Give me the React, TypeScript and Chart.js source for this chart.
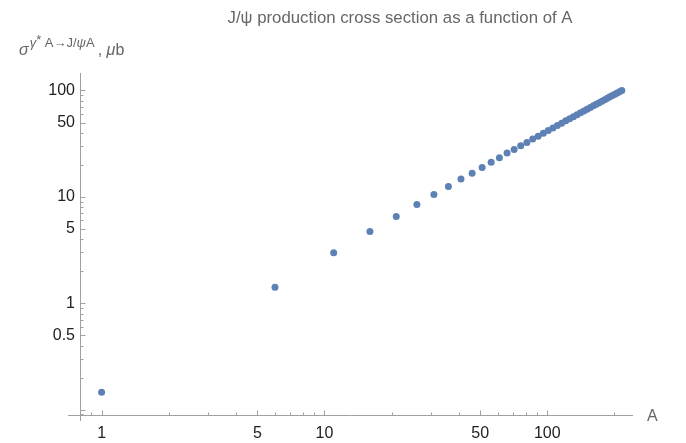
import React, { useEffect, useRef } from 'react';
import { Chart, registerables } from 'chart.js';

Chart.register(...registerables);

// Mass number A and cross section sigma(gamma* A -> J/psi A) in microbarn
const massNumbers = [
  1, 6, 11, 16, 21, 26, 31, 36, 41, 46, 51, 56, 61, 66, 71, 76, 81, 86, 91, 96,
  101, 106, 111, 116, 121, 126, 131, 136, 141, 146, 151, 156, 161, 166, 171, 176,
  181, 186, 191, 196, 201, 206, 211, 216,
];
const crossSections = [
  0.146, 1.41, 2.99, 4.72, 6.53, 8.46, 10.5, 12.5, 14.7, 16.7, 18.9, 21.2, 23.3,
  25.8, 27.9, 30.2, 32.4, 34.9, 37.2, 39.7, 42.1, 44.5, 46.9, 49.3, 51.8, 54.2,
  56.6, 59.1, 61.6, 64.1, 66.6, 69.1, 71.7, 74.2, 76.8, 79.3, 81.9, 84.5, 87.1,
  89.7, 92.3, 94.9, 97.5, 100.2,
];

const xTickValues = [0.8, 0.9, 1, 2, 3, 4, 5, 6, 7, 8, 9, 10, 20, 30, 40, 50, 60, 70, 80, 90, 100, 200];
const xLabelledTicks = [1, 5, 10, 50, 100];
const yTickValues = [
  0.09, 0.1, 0.2, 0.3, 0.4, 0.5, 0.6, 0.7, 0.8, 0.9, 1, 2, 3, 4, 5, 6, 7, 8, 9, 10,
  20, 30, 40, 50, 60, 70, 80, 90, 100,
];
const yLabelledTicks = [0.5, 1, 5, 10, 50, 100];
const yLongTicks = [0.1, 0.5, 1, 5, 10, 50, 100];

const titleText = 'J/\u03c8 production cross section as a function of A';
const xAxisTitle = 'A';

const FONT = '"Liberation Sans", Arial, sans-serif';
const AXIS_COLOR = '#a0a0a0';
const LABEL_COLOR = '#666666';
const POINT_COLOR = '#5e81b5';

const decorPlugin = {
  id: 'decor',
  afterDraw(chart: any) {
    const ctx: CanvasRenderingContext2D = chart.ctx;
    const xs = chart.scales.x;
    const ys = chart.scales.y;
    const { left, right, top, bottom } = chart.chartArea;
    ctx.save();
    ctx.strokeStyle = AXIS_COLOR;
    ctx.lineWidth = 1;
    const line = (x1: number, y1: number, x2: number, y2: number) => {
      ctx.beginPath();
      ctx.moveTo(x1, y1);
      ctx.lineTo(x2, y2);
      ctx.stroke();
    };
    const by = Math.round(bottom) + 0.5;
    const lx = Math.round(left) + 0.5;
    line(left - 12, by, right, by);
    line(lx, top, lx, bottom + 6);
    xTickValues.forEach((v) => {
      const px = Math.round(xs.getPixelForValue(v)) + 0.5;
      const len = xLabelledTicks.includes(v) ? 5 : 3;
      line(px, by, px, by - len);
    });
    yTickValues.forEach((v) => {
      const py = Math.round(ys.getPixelForValue(v)) + 0.5;
      const len = yLongTicks.includes(v) ? 5 : 3;
      line(lx, py, lx + len, py);
    });

    // title
    ctx.fillStyle = LABEL_COLOR;
    ctx.font = `16.8px ${FONT}`;
    ctx.textAlign = 'center';
    ctx.textBaseline = 'alphabetic';
    ctx.fillText(titleText, 400, 23);

    // x axis title
    ctx.font = `16px ${FONT}`;
    ctx.textAlign = 'left';
    ctx.fillText(xAxisTitle, 647, 421);

    // y axis title with superscript
    let x = 19;
    const base = 55;
    const supBase = 47;
    const parts: [string, string, number, number][] = [
      ['\u03c3', `italic 16px ${FONT}`, base, 1],
      ['\u03b3', `italic 13px ${FONT}`, supBase, 0],
      ['*', `13px ${FONT}`, supBase - 3, 0],
      [' A\u2192J/', `13px ${FONT}`, supBase, 0],
      ['\u03c8', `italic 13px ${FONT}`, supBase, 0],
      ['A', `13px ${FONT}`, supBase, 3],
      [', ', `16px ${FONT}`, base, 0],
      ['\u03bc', `italic 16px ${FONT}`, base, 0],
      ['b', `16px ${FONT}`, base, 0],
    ];
    parts.forEach(([t, f, b, gap]) => {
      ctx.font = f;
      ctx.fillText(t, x, b);
      x += ctx.measureText(t).width + gap;
    });
    ctx.restore();
  },
};

export default function App() {
  const canvasRef = useRef<HTMLCanvasElement | null>(null);

  useEffect(() => {
    document.body.style.margin = '0';
    const canvas = canvasRef.current;
    if (!canvas) return;
    const chart = new Chart(canvas, {
      type: 'scatter',
      data: {
        datasets: [
          {
            data: massNumbers.map((a, i) => ({ x: a, y: crossSections[i] })),
            backgroundColor: POINT_COLOR,
            borderWidth: 0,
            pointRadius: 3.5,
          },
        ],
      },
      options: {
        animation: false,
        responsive: false,
        devicePixelRatio: 1,
        layout: { padding: { left: 0, top: 73, right: 53, bottom: 0 } },
        plugins: { legend: { display: false }, tooltip: { enabled: false }, title: { display: false } },
        scales: {
          x: {
            type: 'logarithmic',
            min: 0.8,
            max: 242.5,
            grid: { display: false, drawTicks: false, tickLength: 0 },
            border: { display: false },
            afterBuildTicks: (scale: any) => {
              scale.ticks = xTickValues.map((v) => ({ value: v }));
            },
            afterFit: (scale: any) => {
              scale.height = 28;
            },
            ticks: {
              autoSkip: false,
              maxRotation: 0,
              padding: 9,
              color: '#222',
              font: { family: FONT, size: 16 },
              callback: (v: any) => (xLabelledTicks.includes(Number(v)) ? String(v) : ''),
            },
          },
          y: {
            type: 'logarithmic',
            min: 0.089,
            max: 146,
            grid: { display: false, drawTicks: false, tickLength: 0 },
            border: { display: false },
            afterBuildTicks: (scale: any) => {
              scale.ticks = yTickValues.map((v) => ({ value: v }));
            },
            afterFit: (scale: any) => {
              scale.width = 80;
            },
            ticks: {
              autoSkip: false,
              padding: 5,
              color: '#222',
              font: { family: FONT, size: 16 },
              callback: (v: any) => (yLabelledTicks.includes(Number(v)) ? String(v) : ''),
            },
          },
        },
      },
      plugins: [decorPlugin],
    });
    return () => chart.destroy();
  }, []);

  return (
    <div style={{ width: 686, height: 443 }}>
      <canvas ref={canvasRef} width={686} height={443} style={{ display: 'block', width: 686, height: 443 }} />
    </div>
  );
}
